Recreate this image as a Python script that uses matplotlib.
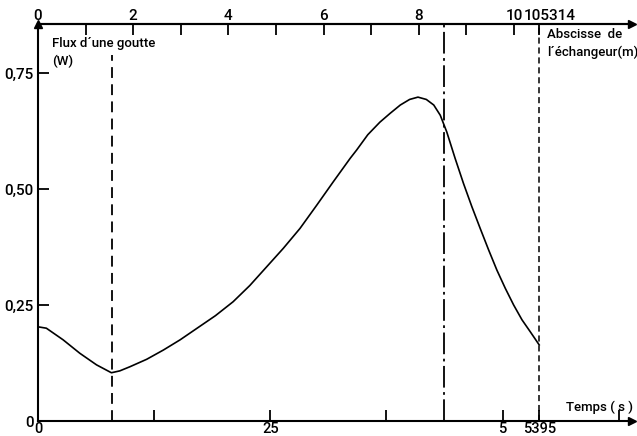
import matplotlib
matplotlib.use("Agg")
import matplotlib.pyplot as plt
from matplotlib.transforms import ScaledTranslation

# ---- data ----
temps = [0.0, 0.09, 0.27, 0.45, 0.63, 0.79, 0.88, 0.99, 1.17, 1.35, 1.53, 1.72, 1.91,
         2.10, 2.28, 2.46, 2.64, 2.82, 3.00, 3.18, 3.36, 3.43, 3.55, 3.68, 3.79, 3.90, 4.00,
         4.09, 4.18, 4.26, 4.33, 4.40, 4.49, 4.58, 4.67, 4.76, 4.85, 4.94, 5.03, 5.12,
         5.21, 5.30, 5.395]
flux = [0.203, 0.200, 0.175, 0.146, 0.121, 0.104, 0.108, 0.117, 0.133, 0.153, 0.175, 0.201, 0.227,
        0.257, 0.292, 0.332, 0.372, 0.415, 0.465, 0.516, 0.566, 0.584, 0.617, 0.644, 0.663, 0.681, 0.693,
        0.698, 0.693, 0.681, 0.659, 0.623, 0.566, 0.512, 0.462, 0.415, 0.369, 0.325, 0.286, 0.250,
        0.218, 0.192, 0.164]

t_min = 0.80        # dashed line at flux minimum
t_dashdot = 4.37    # dash-dot line
t_end = 5.395       # end of exchanger (s)
x_end = 10.5314     # end of exchanger (m)

bottom_ticks = [0, 1.25, 2.5, 3.75, 5, 5.395, 6.25]
bottom_labels = ["0", "", "25", "", "5", "5395", ""]
top_ticks = [0, 1, 2, 3, 4, 5, 6, 7, 8, 9, 10, 10.5314]
top_labels = ["0", "", "2", "", "4", "", "6", "", "8", "", "10", "105314"]
y_ticks = [0, 0.25, 0.5, 0.75]
y_labels = ["0", "0,25", "0,50", "0,75"]

plt.rcParams['font.family'] = ['Roboto', 'DejaVu Sans']
plt.rcParams['font.weight'] = 'medium'

fig = plt.figure(figsize=(6.37, 4.36), dpi=100)
ax = fig.add_axes([38/637, 1-421/436, (632-38)/637, (421-24)/436])
ax.set_xlim(0, (632-38)/92.9)
ax.set_ylim(0, (421-24)/464)

ax.plot(temps, flux, color='black', lw=1.2, solid_joinstyle='round')

ax.plot([t_min, t_min], [0, 0.789], color='black', lw=1.3, linestyle=(0, (6, 3.5)))
ax.axvline(t_dashdot, color='black', lw=1.3, linestyle=(0, (12, 2.5, 1.5, 2.5)))
ax.axvline(t_end, color='black', lw=1.1, linestyle=(0, (4, 2.5)))

ax.spines['right'].set_visible(False)
for s in ['left', 'bottom', 'top']:
    ax.spines[s].set_linewidth(1.5)

ax.set_xticks(bottom_ticks)
ax.set_xticklabels(bottom_labels)
ax.set_yticks(y_ticks)
ax.set_yticklabels(y_labels)
ax.tick_params(axis='x', direction='in', length=8, width=1.3, labelsize=10.5, pad=0.5)
ax.tick_params(axis='y', direction='in', length=8, width=1.3, labelsize=11, pad=3)

ratio = t_end / x_end
sec = ax.secondary_xaxis('top', functions=(lambda t: t / ratio, lambda m: m * ratio))
sec.set_xticks(top_ticks)
sec.set_xticklabels(top_labels)
sec.tick_params(direction='in', length=8, width=1.3, labelsize=11, pad=1)
sec.spines['top'].set_linewidth(1.5)
labs = sec.get_xticklabels()
labs[-1].set_transform(labs[-1].get_transform() + ScaledTranslation(0.10, 0, fig.dpi_scale_trans))

# arrows at axis ends
ax.plot([1], [0], marker='>', color='black', ms=6, transform=ax.transAxes, clip_on=False)
ax.plot([1], [1], marker='>', color='black', ms=6, transform=ax.transAxes, clip_on=False)
ax.plot([0], [1], marker='^', color='black', ms=6, transform=ax.transAxes, clip_on=False)

ax.text(0.15, 0.8125, "Flux d\u00b4une goutte", fontsize=9.5, ha='left', va='center')
ax.text(0.15, 0.776, "(W)", fontsize=9.5, ha='left', va='center')
ax.text(5.48, 0.832, "Abscisse  de", fontsize=9.5, ha='left', va='center')
ax.text(5.48, 0.795, "l\u00b4\u00e9changeur(m)", fontsize=9.5, ha='left', va='center')
ax.text(5.68, 0.030, "Temps ( s )", fontsize=9.5, ha='left', va='center')

fig.savefig("out.png", dpi=100)
